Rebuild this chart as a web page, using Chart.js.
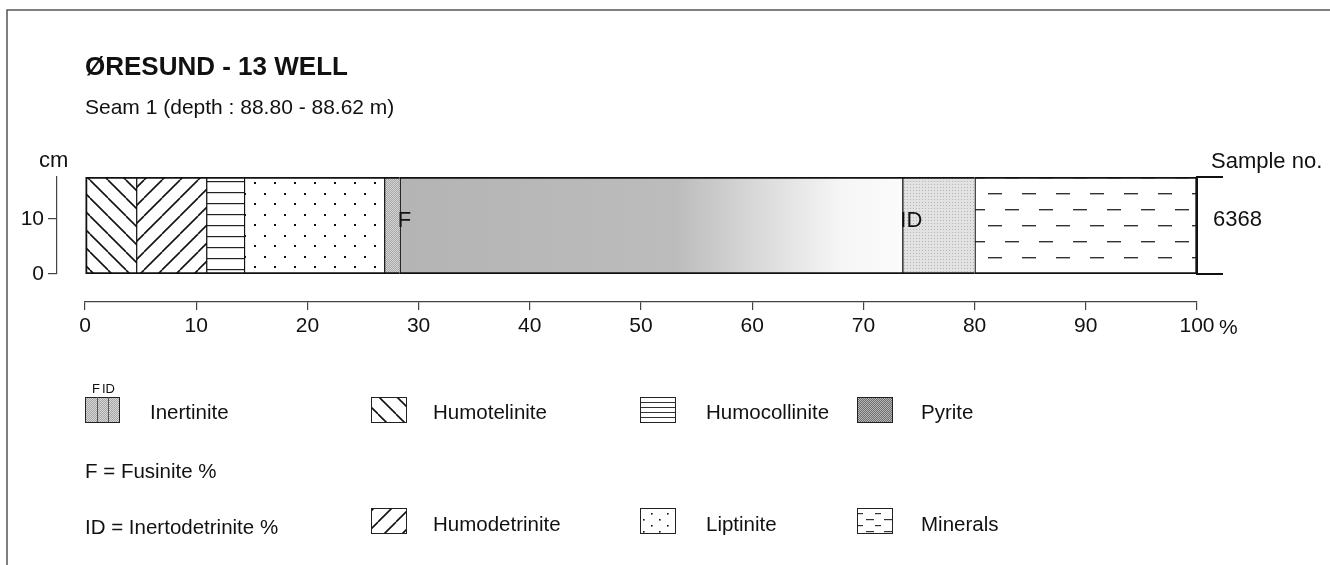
<!DOCTYPE html>
<html>
<head>
<meta charset="utf-8">
<title>Øresund-13 well, seam 1</title>
<script src="https://cdn.jsdelivr.net/npm/chart.js@4.4.1/dist/chart.umd.min.js"></script>
<style>
  html, body { margin: 0; padding: 0; background: #fff; }
  #wrap { position: relative; width: 1330px; height: 565px; }
</style>
</head>
<body>
<div id="wrap"><canvas id="seam" width="1330" height="565"></canvas></div>
<script>
// Maceral composition of seam 1 in the Øresund-13 well, drawn as one stacked 0-100 % bar.

const samples      = ["6368"];
const components   = ["Humotelinite", "Humodetrinite", "Humocollinite", "Liptinite",
                      "Fusinite", "Inertinite", "Inertodetrinite", "Minerals"];
const percentages  = [4.6, 6.3, 3.4, 12.6, 1.4, 45.2, 6.5, 20.0];
const fills        = ["telinite", "detrinite", "collinite", "liptinite",
                      "inert", "inertFade", "inertLight", "minerals"];
const percentTicks = [0, 10, 20, 30, 40, 50, 60, 70, 80, 90, 100];
const cmTicks      = [0, 10];
const seamTopCm    = 17.6;

const legendTop    = [["Inertinite", "inert"], ["Humotelinite", "telinite"],
                      ["Humocollinite", "collIcon"], ["Pyrite", "pyrite"]];
const legendBottom = [["Humodetrinite", "detrinite"], ["Liptinite", "liptIcon"],
                      ["Minerals", "minIcon"]];

const INK  = "#111";
const FONT = '"Liberation Sans", Arial, Helvetica, sans-serif';
Chart.defaults.font.family = FONT;
Chart.defaults.color = INK;

const canvas = document.getElementById("seam");
const ctx2d  = canvas.getContext("2d");

// ─── Fill patterns ───────────────────────────────────────────────────────────

function tile(w, h, draw) {
  const c = document.createElement("canvas");
  c.width = w; c.height = h;
  const g = c.getContext("2d");
  g.fillStyle = "#fff";
  g.fillRect(0, 0, w, h);
  draw(g);
  return ctx2d.createPattern(c, "repeat");
}

function dither(dark, light) {
  return tile(2, 2, (g) => {
    g.fillStyle = dark;  g.fillRect(0, 0, 2, 2);
    g.fillStyle = light; g.fillRect(0, 0, 1, 1); g.fillRect(1, 1, 1, 1);
  });
}

const PATTERNS = {
  telinite: tile(18, 18, (g) => {
    g.strokeStyle = INK; g.lineWidth = 1.6;
    [-18, 0, 18].forEach((k) => { g.beginPath(); g.moveTo(k, 0); g.lineTo(k + 18, 18); g.stroke(); });
  }),
  detrinite: tile(18, 18, (g) => {
    g.strokeStyle = INK; g.lineWidth = 1.6;
    [-18, 0, 18].forEach((k) => { g.beginPath(); g.moveTo(k, 18); g.lineTo(k + 18, 0); g.stroke(); });
  }),
  collinite: tile(8, 11, (g) => {
    g.fillStyle = "#222"; g.fillRect(0, 5, 8, 1.2);
  }),
  collIcon: tile(8, 5, (g) => {
    g.fillStyle = "#333"; g.fillRect(0, 2, 8, 1);
  }),
  liptinite: tile(20, 21, (g) => {
    g.fillStyle = INK; g.fillRect(4, 4, 2, 2); g.fillRect(14, 14, 2, 2);
  }),
  liptIcon: tile(16, 12, (g) => {
    g.fillStyle = INK; g.fillRect(3, 3, 1.6, 1.6); g.fillRect(11, 9, 1.6, 1.6);
  }),
  minerals: tile(34, 32, (g) => {
    g.fillStyle = "#333"; g.fillRect(2, 1, 14, 1.4); g.fillRect(19, 17, 14, 1.4);
  }),
  minIcon: tile(18, 12, (g) => {
    g.fillStyle = "#333"; g.fillRect(2, 3, 8, 1.2); g.fillRect(11, 9, 6, 1.2);
  }),
  inert:      dither("#a6a6a6", "#d6d6d6"),
  inertLight: tile(3, 3, (g) => {
    g.fillStyle = "#e2e2e2"; g.fillRect(0, 0, 3, 3);
    g.fillStyle = "#b4b4b4"; g.fillRect(1, 1, 1, 1);
  }),
  pyrite:     dither("#6e6e6e", "#b6b6b6"),
};

// cumulative end of each segment, used for the gradient and the F / ID markers
const ends = percentages.reduce((acc, v) => acc.concat((acc.length ? acc[acc.length - 1] : 0) + v), []);

function fillFor(key) {
  if (key !== "inertFade") return PATTERNS[key];
  return (c) => {
    const x = c.chart.scales.x;
    if (!x || !c.chart.chartArea) return "#bbb";
    const i  = fills.indexOf("inertFade");
    const x0 = x.getPixelForValue(ends[i - 1]);
    const x1 = x.getPixelForValue(ends[i]);
    const g  = c.chart.ctx.createLinearGradient(x0, 0, x1, 0);
    g.addColorStop(0,    "#b4b4b4");
    g.addColorStop(0.55, "#bcbcbc");
    g.addColorStop(0.75, "#e0e0e0");
    g.addColorStop(0.88, "#f6f6f6");
    g.addColorStop(1,    "#fbfbfb");
    return g;
  };
}

// ─── Decorations: titles, axis captions, F / ID markers, legend ─────────────

function text(ctx, s, x, y, size, weight, align) {
  ctx.font = `${weight || "normal"} ${size}px ${FONT}`;
  ctx.textAlign = align || "left";
  ctx.textBaseline = "alphabetic";
  ctx.fillText(s, x, y);
}

function icon(ctx, key, x, y, w, h) {
  ctx.fillStyle = PATTERNS[key];
  ctx.fillRect(x, y, w, h);
  ctx.strokeStyle = "#222";
  ctx.lineWidth = 1;
  ctx.strokeRect(x + 0.5, y + 0.5, w, h);
}

const decor = {
  id: "decor",
  afterDraw(chart) {
    const ctx = chart.ctx;
    const x   = chart.scales.x;
    ctx.save();
    ctx.fillStyle = INK;

    // scan frame
    ctx.strokeStyle = "#555";
    ctx.lineWidth = 1.5;
    ctx.beginPath();
    ctx.moveTo(7, 565); ctx.lineTo(7, 10); ctx.lineTo(1330, 10);
    ctx.stroke();

    text(ctx, "ØRESUND - 13 WELL", 85, 75, 26, "bold");
    text(ctx, "Seam 1 (depth : 88.80 - 88.62 m)", 85, 114, 21);
    text(ctx, "cm", 39, 167, 22);
    text(ctx, "Sample no.", 1211, 168, 22);
    text(ctx, "%", x.getPixelForValue(100) + 22, 334, 21);

    // F and ID markers sit on the inertinite sub-boundaries
    const fx  = x.getPixelForValue(ends[fills.indexOf("inert")]);
    const idx = x.getPixelForValue(ends[fills.indexOf("inertFade")]);
    text(ctx, "F",  fx - 2,  227, 22);
    text(ctx, "ID", idx - 2, 227, 22);

    // legend
    const cols = [85, 371, 640, 857];
    const txt  = [150, 433, 706, 921];
    const fs   = 20.5;
    legendTop.forEach(([name, key], i) => {
      icon(ctx, key, cols[i], 397, i === 0 ? 34 : 35, 25);
      ctx.fillStyle = INK;
      text(ctx, name, txt[i], 419, fs);
    });
    // F / ID division lines on the inertinite key
    ctx.strokeStyle = "#555";
    ctx.beginPath();
    ctx.moveTo(97.5, 397); ctx.lineTo(97.5, 422);
    ctx.moveTo(108.5, 397); ctx.lineTo(108.5, 422);
    ctx.stroke();
    ctx.fillStyle = INK;
    text(ctx, "F",  92, 393, 13);
    text(ctx, "ID", 102, 393, 13);

    text(ctx, "F = Fusinite %", 85, 478, fs);
    text(ctx, "ID = Inertodetrinite %", 85, 534, fs);
    legendBottom.forEach(([name, key], i) => {
      icon(ctx, key, cols[i + 1], 508, 35, 25);
      ctx.fillStyle = INK;
      text(ctx, name, txt[i + 1], 531, fs);
    });
    ctx.restore();
  },
};

// ─── Chart ───────────────────────────────────────────────────────────────────

const last = components.length - 1;
const datasets = components.map((name, i) => ({
  label: name,
  data: [percentages[i]],
  backgroundColor: fillFor(fills[i]),
  borderColor: INK,
  borderWidth: { top: 2, bottom: 2, left: i === 0 ? 2 : 1.5, right: i === last ? 2 : 0 },
  borderSkipped: false,
  barPercentage: 1,
  categoryPercentage: 1,
  stack: "seam",
}));

const spacer = (size, dim) => ({
  type: "linear",
  display: true,
  offset: false,
  ticks: { display: false },
  grid: { display: false, offset: false },
  border: { display: false },
  weight: 0,
  afterFit: (s) => { s[dim] = size; },
});

new Chart(canvas, {
  type: "bar",
  data: { labels: samples, datasets },
  options: {
    indexAxis: "y",
    responsive: false,
    animation: false,
    events: [],
    layout: { padding: { left: 20, right: 0, top: 177, bottom: 223 } },
    plugins: { legend: { display: false }, tooltip: { enabled: false } },
    scales: {
      x: {
        type: "linear", position: "bottom", stacked: true, min: 0, max: 100, weight: 1,
        afterBuildTicks: (s) => { s.ticks = percentTicks.map((v) => ({ value: v })); },
        afterFit: (s) => { s.height = 40; },
        border: { color: "#444", width: 1.2 },
        grid: { drawOnChartArea: false, tickLength: 8, color: "#444", lineWidth: 1.2 },
        ticks: { padding: 4, color: INK, font: { size: 21 }, maxRotation: 0, autoSkip: false },
      },
      xGap: Object.assign(spacer(28, "height"), { position: "bottom" }),
      y: {
        type: "category", position: "right", stacked: true,
        afterFit: (s) => { s.width = 133; },
        border: { color: INK, width: 2 },
        grid: { drawOnChartArea: false, tickLength: 26, color: INK, lineWidth: 2 },
        ticks: { padding: -10, labelOffset: -6, color: INK, font: { size: 22 } },
      },
      cm: {
        type: "linear", position: "left", min: 0, max: seamTopCm, weight: 1,
        offset: false,
        afterBuildTicks: (s) => { s.ticks = cmTicks.map((v) => ({ value: v })); },
        afterFit: (s) => { s.width = 37; },
        border: { color: "#444", width: 1.2 },
        grid: { drawOnChartArea: false, offset: false, tickLength: 9, color: "#444", lineWidth: 1.2 },
        ticks: { padding: 4, color: INK, font: { size: 21 } },
      },
      yGap: Object.assign(spacer(28, "width"), { position: "left" }),
    },
  },
  plugins: [decor],
});
</script>
</body>
</html>
